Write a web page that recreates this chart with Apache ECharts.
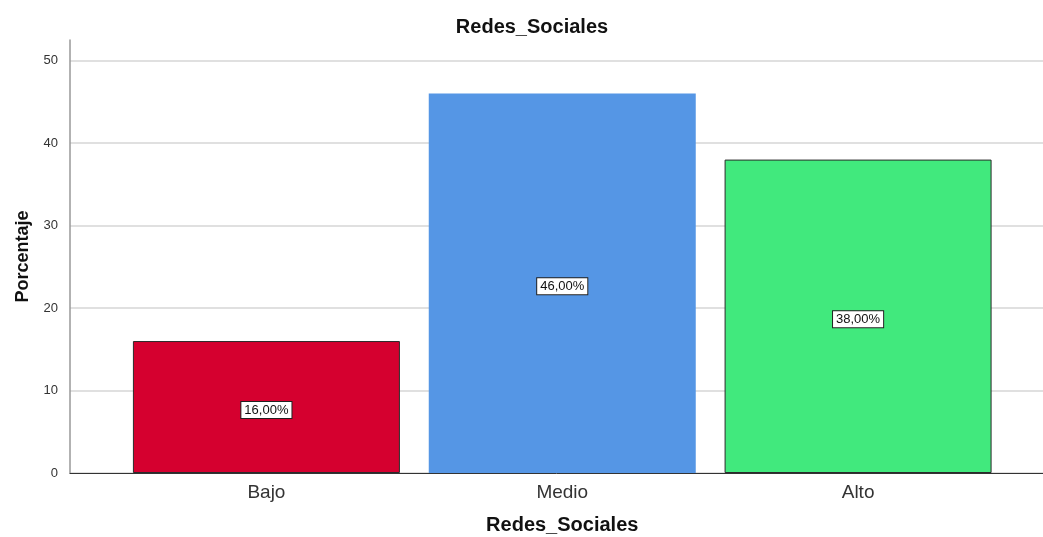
<!DOCTYPE html>
<html>
<head>
<meta charset="utf-8">
<script src="https://cdn.jsdelivr.net/npm/echarts@6/dist/echarts.min.js"></script>
<style>
  html, body { margin: 0; padding: 0; background: #fff; }
  #chart { width: 1043px; height: 537px; }
</style>
</head>
<body>
<div id="chart"></div>
<script>
// datos del gráfico
var categorias = ['Bajo', 'Medio', 'Alto'];
var porcentajes = [16, 46, 38];
var colores = ['#d5002f', '#5596e5', '#41e97d'];
var bordes = ['#2b2b2b', null, '#2b2b2b'];
var yTicks = [0, 10, 20, 30, 40, 50];

var fuente = '"Liberation Sans", Arial, sans-serif';

var chart = echarts.init(document.getElementById('chart'));

var barData = porcentajes.map(function (v, i) {
  return {
    value: v,
    itemStyle: {
      color: colores[i],
      borderColor: bordes[i] || colores[i],
      borderWidth: bordes[i] ? 1 : 0
    }
  };
});

var option = {
  animation: false,
  textStyle: { fontFamily: fuente },
  title: {
    text: 'Redes_Sociales',
    left: 527,
    textAlign: 'center',
    top: 12,
    textStyle: { fontFamily: fuente, fontSize: 20, fontWeight: 'bold', color: '#111' }
  },
  grid: [
    // marco: eje y, líneas de cuadrícula y eje x
    { left: 70, right: 0, top: 40, bottom: 64, outerBoundsMode: 'none' },
    // barras
    { left: 118.5, right: 37, top: 40, bottom: 64, outerBoundsMode: 'none' }
  ],
  xAxis: [
    {
      gridIndex: 0,
      type: 'value',
      min: 0,
      max: 1,
      axisLine: { show: true, onZero: false, lineStyle: { color: '#333', width: 1 } },
      axisTick: { show: false },
      axisLabel: { show: false },
      splitLine: { show: false }
    },
    {
      gridIndex: 1,
      type: 'category',
      data: categorias,
      axisLine: { show: false },
      axisTick: { show: false },
      axisLabel: { fontFamily: fuente, fontSize: 19, color: '#333', margin: 10 },
      name: 'Redes_Sociales',
      nameLocation: 'middle',
      nameGap: 42,
      nameTextStyle: { fontFamily: fuente, fontSize: 20, fontWeight: 'bold', color: '#111' }
    }
  ],
  yAxis: [
    {
      gridIndex: 0,
      type: 'value',
      min: 0,
      max: 52.5,
      interval: 10,
      axisLine: { show: true, lineStyle: { color: '#999', width: 1.5 } },
      axisTick: { show: false },
      axisLabel: {
        fontFamily: fuente, fontSize: 13, color: '#333', margin: 12,
        formatter: function (v) { return yTicks.indexOf(v) >= 0 ? String(v) : ''; }
      },
      splitLine: { show: true, showMaxLine: false, lineStyle: { color: '#d6d6d6', width: 1.5 } },
      name: 'Porcentaje',
      nameLocation: 'middle',
      nameGap: 38,
      nameTextStyle: { fontFamily: fuente, fontSize: 18, fontWeight: 'bold', color: '#111' }
    },
    {
      gridIndex: 1,
      type: 'value',
      min: 0,
      max: 52.5,
      show: false
    }
  ],
  series: [
    {
      type: 'bar',
      xAxisIndex: 1,
      yAxisIndex: 1,
      barWidth: 267,
      data: barData,
      label: {
        show: true,
        position: 'inside',
        offset: [0, 3],
        formatter: function (p) { return p.value.toFixed(2).replace('.', ',') + '%'; },
        fontFamily: fuente,
        fontSize: 13,
        color: '#111',
        backgroundColor: '#fff',
        borderColor: '#222',
        borderWidth: 1,
        padding: [2, 3, 1, 3]
      }
    }
  ]
};

chart.setOption(option);
</script>
</body>
</html>
